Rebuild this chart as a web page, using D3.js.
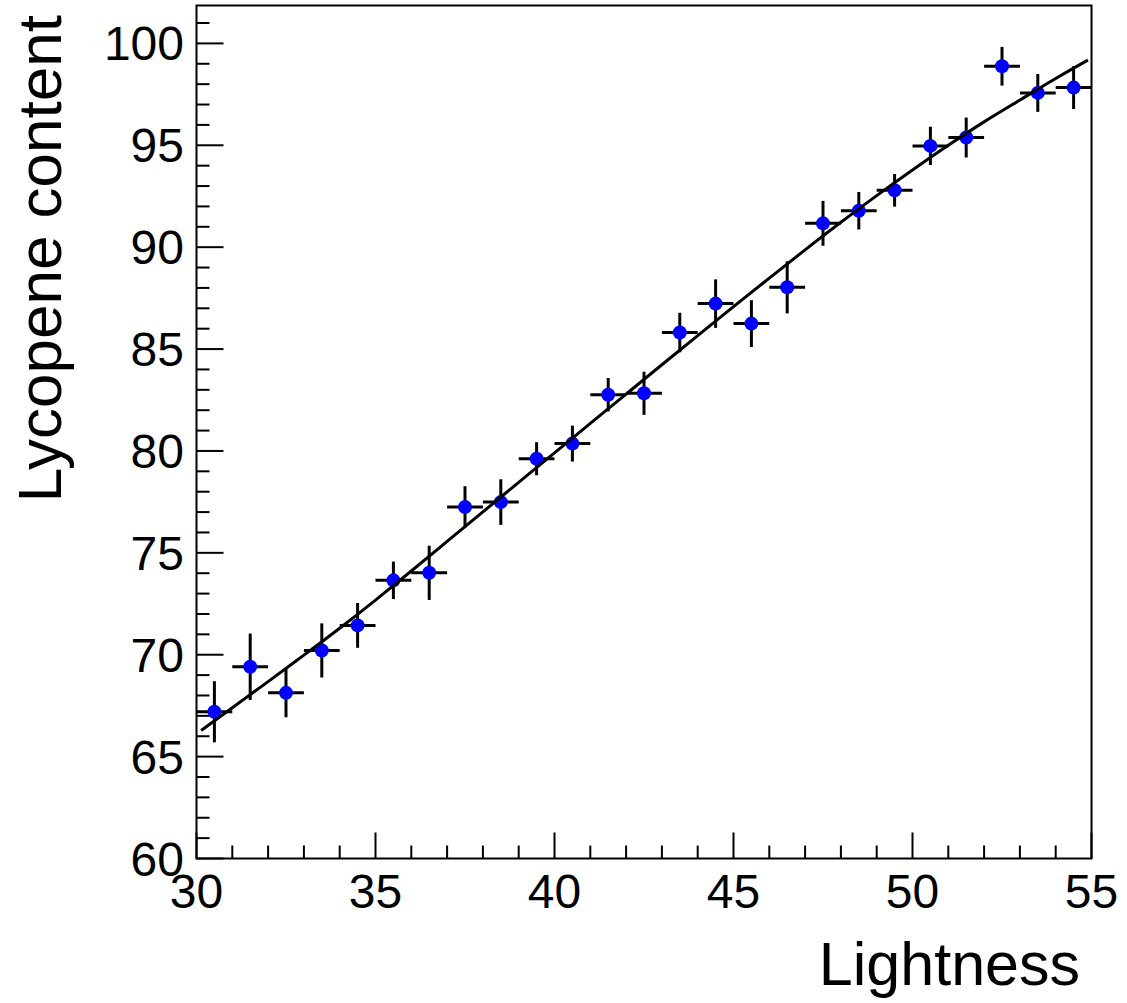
<!DOCTYPE html>
<html><head><meta charset="utf-8">
<script src="https://cdn.jsdelivr.net/npm/d3@7"></script>
<style>html,body{margin:0;padding:0;background:#fff;}svg{display:block;}</style>
</head><body>
<svg id="chart" width="1127" height="1003"></svg>
<script>
const lightness = [30.5,31.5,32.5,33.5,34.5,35.5,36.5,37.5,38.5,39.5,40.5,41.5,42.5,43.5,44.5,45.5,46.5,47.5,48.5,49.5,50.5,51.5,52.5,53.5,54.5];
const lycopene  = [67.2,69.41,68.13,70.21,71.44,73.65,74.02,77.25,77.49,79.62,80.36,82.76,82.83,85.81,87.23,86.25,88.03,91.17,91.79,92.79,94.97,95.38,98.88,97.57,97.83];
const errY      = [1.5,1.63,1.2,1.33,1.1,0.92,1.33,1.02,1.12,0.81,0.88,0.82,1.06,0.97,1.19,1.15,1.28,1.1,0.92,0.8,0.94,0.98,0.95,0.93,1.05];
const errX      = 0.5;
const fitX = [30.13,31,32,33,34,35,36,37,38,39,40,41,42,43,44,45,46,47,48,49,50,51,52,53,54,54.9];
const fitY = [66.28,67.40,68.68,69.98,71.30,72.68,74.11,75.56,77.01,78.46,79.91,81.35,82.79,84.23,85.66,87.08,88.48,89.87,91.22,92.53,93.79,95.00,96.15,97.22,98.28,99.18];
const xTicks = [30,35,40,45,50,55];
const yTicks = [60,65,70,75,80,85,90,95,100];
const xTitle = "Lightness";
const yTitle = "Lycopene content";

const L = 196.5, R = 1091.5, T = 5.5, B = 858.5;
const svg = d3.select("#chart");
const x = d3.scaleLinear().domain([30,55]).range([L,R]);
const y = d3.scaleLinear().domain([60,101.86]).range([B,T]);
const font = "'Liberation Sans', Arial, Helvetica, sans-serif";

// minor and major ticks
const xMinor = d3.range(30,56,1), yMinor = d3.range(60,102,1);
const g = svg.append("g");
g.selectAll(".xm").data(xMinor).enter().append("line")
  .attr("x1",d=>x(d)).attr("x2",d=>x(d)).attr("y1",B).attr("y2",d=>B-(d%5===0?26:13))
  .attr("stroke","#000").attr("stroke-width",2);
g.selectAll(".ym").data(yMinor).enter().append("line")
  .attr("y1",d=>y(d)).attr("y2",d=>y(d)).attr("x1",L).attr("x2",d=>L+(d%5===0?27:13))
  .attr("stroke","#000").attr("stroke-width",2);

// frame
svg.append("rect").attr("x",L).attr("y",T).attr("width",R-L).attr("height",B-T)
  .attr("fill","none").attr("stroke","#000").attr("stroke-width",2);

// tick labels
svg.selectAll(".xl").data(xTicks).enter().append("text")
  .attr("x",d=>x(d)).attr("y",908).attr("text-anchor","middle")
  .attr("font-family",font).attr("font-size",48).text(d=>d);
svg.selectAll(".yl").data(yTicks).enter().append("text")
  .attr("x",184).attr("y",d=>y(d)+17).attr("text-anchor","end")
  .attr("font-family",font).attr("font-size",48).text(d=>d);

// titles
svg.append("text").attr("x",1080).attr("y",985).attr("text-anchor","end")
  .attr("font-family",font).attr("font-size",61).text(xTitle);
svg.append("text").attr("transform","translate(61,15) rotate(-90)").attr("text-anchor","end")
  .attr("font-family",font).attr("font-size",62).text(yTitle);

// error bars
const eb = svg.append("g").attr("stroke","#000").attr("stroke-width",3);
lightness.forEach((lx,i)=>{
  eb.append("line").attr("x1",x(lx-errX)).attr("x2",x(lx+errX)).attr("y1",y(lycopene[i])).attr("y2",y(lycopene[i]));
  eb.append("line").attr("x1",x(lx)).attr("x2",x(lx)).attr("y1",y(lycopene[i]-errY[i])).attr("y2",y(lycopene[i]+errY[i]));
});

// markers
svg.selectAll(".pt").data(lightness).enter().append("circle")
  .attr("cx",d=>x(d)).attr("cy",(d,i)=>y(lycopene[i])).attr("r",7).attr("fill","#0000ff");

// fit curve
const line = d3.line().x(d=>x(d[0])).y(d=>y(d[1])).curve(d3.curveNatural);
svg.append("path").datum(fitX.map((v,i)=>[v,fitY[i]])).attr("d",line)
  .attr("fill","none").attr("stroke","#000").attr("stroke-width",3);
</script>
</body></html>
